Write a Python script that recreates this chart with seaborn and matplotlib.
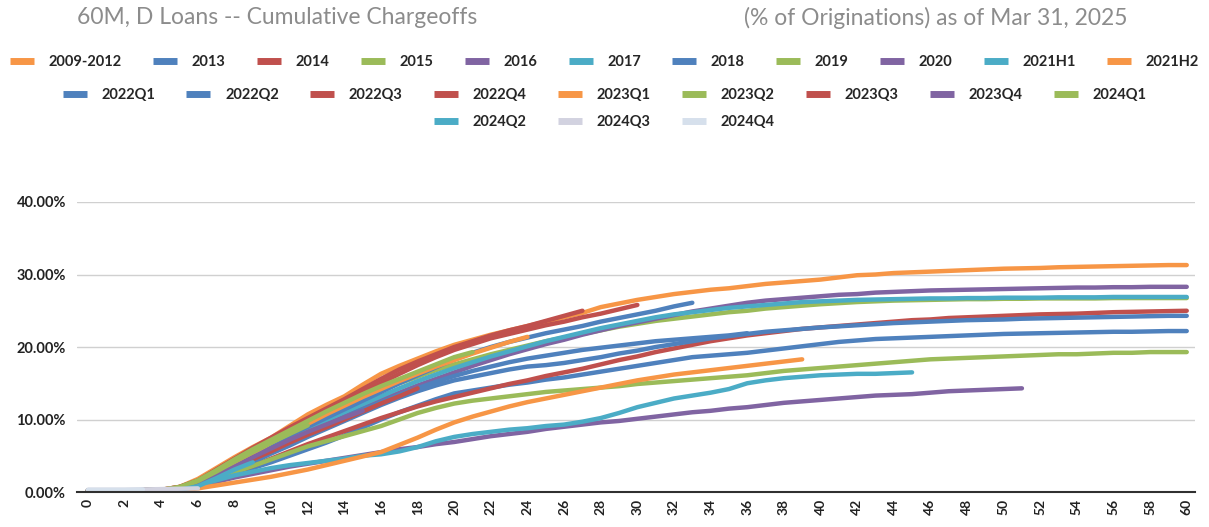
import seaborn as sns
import matplotlib.pyplot as plt
from matplotlib.lines import Line2D
import pandas as pd

# months on book 0..60, cumulative chargeoffs in % of originations
v_2009_2012 = [0.2, 0.2, 0.2, 0.25, 0.3, 0.7, 1.8, 3.3, 4.8, 6.2, 7.5, 9.1, 10.7, 12.0, 13.2, 14.8, 16.3, 17.4, 18.4, 19.4,
               20.3, 21.0, 21.7, 22.3, 22.9, 23.5, 24.1, 24.7, 25.5, 26.0, 26.5, 26.9, 27.3, 27.6, 27.9, 28.1, 28.4, 28.7,
               28.9, 29.1, 29.3, 29.6, 29.9, 30.0, 30.2, 30.3, 30.4, 30.5, 30.6, 30.7, 30.8, 30.85, 30.9, 31.0, 31.05,
               31.1, 31.15, 31.2, 31.25, 31.3, 31.3]
v_2013 = [0.2, 0.2, 0.2, 0.25, 0.3, 0.4, 1.0, 1.7, 2.5, 3.3, 4.1, 5.0, 5.9, 6.8, 7.8, 8.9, 10.0, 11.0, 11.9, 12.8, 13.6,
          14.0, 14.4, 14.8, 15.1, 15.5, 15.8, 16.2, 16.6, 17.0, 17.4, 17.8, 18.2, 18.6, 18.8, 19.0, 19.2, 19.5, 19.8,
          20.1, 20.4, 20.7, 20.9, 21.1, 21.2, 21.3, 21.4, 21.5, 21.6, 21.7, 21.8, 21.85, 21.9, 21.95, 22.0, 22.05,
          22.1, 22.1, 22.15, 22.2, 22.2]
v_2014 = [0.2, 0.2, 0.2, 0.25, 0.3, 0.4, 0.8, 1.7, 2.6, 3.6, 4.6, 5.6, 6.6, 7.5, 8.4, 9.3, 10.2, 11.0, 11.8, 12.5, 13.1,
          13.7, 14.3, 14.9, 15.4, 16.0, 16.5, 17.0, 17.6, 18.2, 18.7, 19.3, 19.8, 20.3, 20.8, 21.2, 21.6, 21.9, 22.2,
          22.5, 22.7, 22.9, 23.1, 23.3, 23.5, 23.7, 23.8, 24.0, 24.1, 24.2, 24.3, 24.4, 24.5, 24.55, 24.6, 24.7, 24.8,
          24.85, 24.9, 24.95, 25.0]
v_2015 = [0.2, 0.2, 0.2, 0.25, 0.3, 0.6, 1.4, 2.7, 4.0, 5.4, 6.8, 8.2, 9.5, 10.7, 11.9, 13.0, 14.0, 15.0, 15.9, 16.8,
          17.6, 18.3, 19.0, 19.6, 20.2, 20.8, 21.3, 21.8, 22.3, 22.8, 23.2, 23.6, 23.9, 24.2, 24.5, 24.8, 25.0, 25.3,
          25.5, 25.7, 25.9, 26.05, 26.2, 26.3, 26.4, 26.45, 26.5, 26.55, 26.6, 26.6, 26.65, 26.65, 26.7, 26.7, 26.7,
          26.7, 26.75, 26.75, 26.75, 26.75, 26.75]
v_2016 = [0.2, 0.2, 0.2, 0.25, 0.3, 0.4, 1.0, 2.1, 3.3, 4.5, 5.8, 7.0, 8.3, 9.4, 10.5, 11.6, 12.7, 13.7, 14.7, 15.6, 16.5,
          17.4, 18.2, 19.0, 19.7, 20.4, 21.0, 21.7, 22.3, 22.9, 23.4, 23.9, 24.4, 24.9, 25.3, 25.7, 26.1, 26.4, 26.6,
          26.8, 27.0, 27.2, 27.3, 27.5, 27.6, 27.7, 27.8, 27.85, 27.9, 27.95, 28.0, 28.05, 28.1, 28.15, 28.2, 28.2,
          28.25, 28.25, 28.3, 28.3, 28.3]
v_2017 = [0.2, 0.2, 0.2, 0.25, 0.3, 0.5, 1.2, 2.3, 3.5, 4.7, 6.0, 7.3, 8.6, 9.8, 11.0, 12.1, 13.2, 14.3, 15.3, 16.2, 17.1,
          17.9, 18.7, 19.4, 20.1, 20.8, 21.4, 22.0, 22.6, 23.1, 23.6, 24.1, 24.5, 24.8, 25.1, 25.4, 25.6, 25.8, 26.0,
          26.2, 26.3, 26.4, 26.5, 26.55, 26.6, 26.65, 26.7, 26.7, 26.75, 26.75, 26.8, 26.8, 26.8, 26.85, 26.85, 26.85,
          26.9, 26.9, 26.9, 26.9, 26.9]
v_2018 = [0.2, 0.2, 0.2, 0.25, 0.3, 0.4, 1.0, 2.0, 3.0, 4.1, 5.3, 6.4, 7.6, 8.7, 9.8, 10.9, 12.0, 13.0, 13.9, 14.7, 15.4,
          15.9, 16.4, 16.9, 17.3, 17.5, 17.8, 18.2, 18.6, 19.1, 19.5, 20.0, 20.4, 20.8, 21.2, 21.5, 21.8, 22.1, 22.3,
          22.5, 22.7, 22.85, 23.0, 23.15, 23.3, 23.4, 23.5, 23.6, 23.7, 23.75, 23.8, 23.9, 23.95, 24.0, 24.05, 24.1,
          24.15, 24.2, 24.25, 24.3, 24.3]
v_2019 = [0.2, 0.2, 0.2, 0.25, 0.3, 0.3, 1.0, 1.8, 2.7, 3.6, 4.5, 5.4, 6.3, 7.0, 7.7, 8.4, 9.1, 10.0, 10.9, 11.6, 12.2,
          12.6, 12.9, 13.2, 13.5, 13.8, 14.0, 14.2, 14.4, 14.6, 14.9, 15.1, 15.3, 15.5, 15.7, 15.9, 16.1, 16.4, 16.7,
          16.9, 17.1, 17.3, 17.5, 17.7, 17.9, 18.1, 18.3, 18.4, 18.5, 18.6, 18.7, 18.8, 18.9, 19.0, 19.0, 19.1, 19.2,
          19.2, 19.3, 19.3, 19.3]
v_2020 = [0.2, 0.2, 0.2, 0.25, 0.3, 0.3, 0.8, 1.4, 2.0, 2.5, 3.0, 3.5, 3.9, 4.3, 4.7, 5.1, 5.5, 5.9, 6.2, 6.6, 6.9, 7.3,
          7.7, 8.0, 8.3, 8.7, 9.0, 9.3, 9.6, 9.8, 10.1, 10.4, 10.7, 11.0, 11.2, 11.5, 11.7, 12.0, 12.3, 12.5, 12.7,
          12.9, 13.1, 13.3, 13.4, 13.5, 13.7, 13.9, 14.0, 14.1, 14.2, 14.3]
v_2021h1 = [0.2, 0.2, 0.2, 0.25, 0.3, 0.3, 0.9, 1.6, 2.3, 2.8, 3.3, 3.7, 4.0, 4.3, 4.6, 5.0, 5.2, 5.6, 6.2, 7.0, 7.6,
            8.0, 8.3, 8.6, 8.8, 9.1, 9.3, 9.7, 10.2, 10.9, 11.7, 12.3, 12.9, 13.3, 13.7, 14.2, 15.0, 15.4, 15.7, 15.9,
            16.1, 16.2, 16.3, 16.3, 16.4, 16.5]
v_2021h2 = [0.2, 0.2, 0.2, 0.25, 0.3, 0.2, 0.5, 0.9, 1.3, 1.7, 2.1, 2.6, 3.1, 3.7, 4.3, 4.9, 5.5, 6.5, 7.5, 8.6, 9.6,
            10.4, 11.1, 11.8, 12.4, 12.9, 13.4, 13.9, 14.4, 14.9, 15.4, 15.8, 16.2, 16.5, 16.8, 17.1, 17.4, 17.7, 18.0,
            18.3]
v_2022q1 = [0.2, 0.2, 0.2, 0.25, 0.3, 0.4, 1.0, 2.1, 3.2, 4.4, 5.6, 6.8, 8.0, 9.2, 10.3, 11.4, 12.4, 13.4, 14.3, 15.2,
            16.0, 16.7, 17.3, 17.9, 18.4, 18.8, 19.2, 19.6, 19.9, 20.2, 20.5, 20.8, 21.0, 21.2, 21.4, 21.6, 21.9]
v_2022q2 = [0.2, 0.2, 0.2, 0.25, 0.3, 0.5, 1.2, 2.5, 3.8, 5.2, 6.5, 7.8, 9.0, 10.2, 11.4, 12.6, 13.8, 15.0, 16.1, 17.2,
            18.3, 19.2, 20.0, 20.7, 21.3, 21.9, 22.4, 22.9, 23.5, 24.0, 24.5, 25.0, 25.6, 26.1]
v_2022q3 = [0.2, 0.2, 0.2, 0.25, 0.3, 0.7, 1.5, 3.0, 4.5, 5.9, 7.3, 8.6, 9.8, 11.0, 12.3, 13.7, 15.0, 16.3, 17.5, 18.6,
            19.6, 20.4, 21.2, 21.8, 22.4, 23.0, 23.5, 24.1, 24.6, 25.2, 25.8]
v_2022q4 = [0.2, 0.2, 0.2, 0.25, 0.3, 0.7, 1.6, 3.1, 4.6, 6.1, 7.5, 8.9, 10.2, 11.5, 12.8, 14.2, 15.6, 16.9, 18.0, 19.0,
            20.0, 20.8, 21.6, 22.3, 22.9, 23.6, 24.3, 25.0]
v_2023q1 = [0.2, 0.2, 0.2, 0.25, 0.3, 0.6, 1.3, 2.6, 4.0, 5.4, 6.8, 8.1, 9.4, 10.7, 11.9, 13.1, 14.2, 15.3, 16.3, 17.3,
            18.2, 19.1, 19.9, 20.7, 21.4]
v_2023q2 = [0.2, 0.2, 0.2, 0.25, 0.3, 0.7, 1.6, 3.0, 4.5, 5.9, 7.2, 8.5, 9.8, 11.1, 12.3, 13.5, 14.6, 15.6, 16.6, 17.6,
            18.6, 19.3]
v_2023q3 = [0.2, 0.2, 0.2, 0.25, 0.3, 0.5, 1.1, 2.2, 3.3, 4.5, 5.6, 6.8, 7.9, 8.9, 10.0, 11.1, 12.2, 13.2, 14.3]
v_2023q4 = [0.2, 0.2, 0.2, 0.25, 0.3, 0.5, 1.2, 2.3, 3.5, 4.8, 6.0, 7.2, 8.3, 9.3, 10.3, 11.2]
v_2024q1 = [0.2, 0.2, 0.2, 0.25, 0.3, 0.6, 1.5, 2.8, 4.2, 5.5, 6.8, 8.0, 9.2]
v_2024q2 = [0.2, 0.2, 0.2, 0.25, 0.3, 0.3, 0.8, 1.9, 3.1, 4.1]
v_2024q3 = [0.3, 0.3, 0.3, 0.35, 0.4, 0.45, 0.5]
v_2024q4 = [0.3, 0.3, 0.3, 0.35]

vintages = ["2009-2012", "2013", "2014", "2015", "2016", "2017", "2018", "2019", "2020", "2021H1", "2021H2",
            "2022Q1", "2022Q2", "2022Q3", "2022Q4", "2023Q1", "2023Q2", "2023Q3", "2023Q4", "2024Q1",
            "2024Q2", "2024Q3", "2024Q4"]
series = [v_2009_2012, v_2013, v_2014, v_2015, v_2016, v_2017, v_2018, v_2019, v_2020, v_2021h1, v_2021h2,
          v_2022q1, v_2022q2, v_2022q3, v_2022q4, v_2023q1, v_2023q2, v_2023q3, v_2023q4, v_2024q1,
          v_2024q2, v_2024q3, v_2024q4]

orange, blue, red, green, purple, teal = "#F79646", "#4F81BD", "#C0504D", "#9BBB59", "#8064A2", "#4BACC6"
colors = [orange, blue, red, green, purple, teal, blue, green, purple, teal, orange,
          blue, blue, red, red, orange, green, red, purple, green,
          teal, "#D2D2E0", "#D6E0EC"]
palette = dict(zip(vintages, colors))

rows = []
for name, vals in zip(vintages, series):
    for m, v in enumerate(vals):
        rows.append((name, m, v))
df = pd.DataFrame(rows, columns=["vintage", "month", "pct"])

sns.set_style("white")
plt.rcParams["font.family"] = ["Lato", "DejaVu Sans"]

fig = plt.figure(figsize=(12.09, 5.27), dpi=100)
ax = fig.add_axes([0.0637, 0.0664, 0.9247, 0.5503])

sns.lineplot(data=df, x="month", y="pct", hue="vintage", hue_order=vintages, palette=palette,
             linewidth=3.2, errorbar=None, legend=False, ax=ax)

ax.set_xlim(-0.6, 60.45)
ax.set_ylim(0, 40)
ax.set_yticks([0, 10, 20, 30, 40])
ax.set_yticklabels([f"{t:.2f}%" for t in [0, 10, 20, 30, 40]], fontsize=10.5, fontweight="bold", color="#222222")
ax.set_xticks(range(0, 61, 2))
ax.set_xticklabels([str(t) for t in range(0, 61, 2)], rotation=90, fontsize=10, fontweight="bold",
                   color="#222222")
ax.tick_params(axis="y", length=0, pad=8)
ax.tick_params(axis="x", length=0, pad=5)
ax.grid(axis="y", color="#D0D0D0", linewidth=1)
ax.set_axisbelow(True)
for s in ["left", "right", "top"]:
    ax.spines[s].set_visible(False)
ax.spines["bottom"].set_color("#303030")
ax.spines["bottom"].set_linewidth(1.5)
ax.set_xlabel("")
ax.set_ylabel("")

fig.text(0.0637, 0.966, "60M, D Loans -- Cumulative Chargeoffs", fontsize=16.5, color="#8C8C8C", va="center")
fig.text(0.6154, 0.966, "(% of Originations) as of Mar 31, 2025", fontsize=16.5, color="#8C8C8C", va="center")

# legend in three centred rows like the source
handles = [Line2D([], [], color=c, linewidth=5, solid_capstyle="butt") for c in colors]
row_slices = [(0, 11, 0.882), (11, 20, 0.820), (20, 23, 0.768)]
for a, b, y in row_slices:
    leg = fig.legend(handles[a:b], vintages[a:b], loc="center", bbox_to_anchor=(0.5, y), ncol=b - a,
                     frameon=False, fontsize=10.5, handlelength=1.65, handletextpad=1.0, columnspacing=2.15,
                     borderaxespad=0, borderpad=0)
    for t in leg.get_texts():
        t.set_fontweight("bold")
        t.set_color("#262626")

fig.savefig("out.png", dpi=100)
